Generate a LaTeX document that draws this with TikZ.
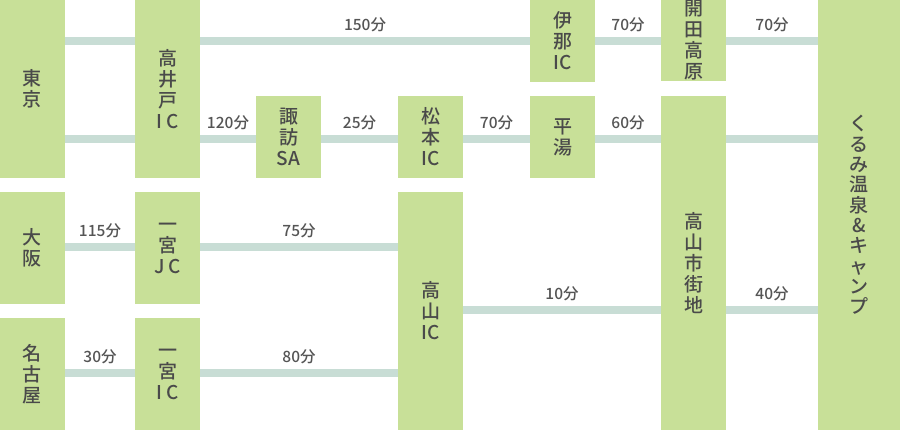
\documentclass[tikz,border=0pt]{standalone}
\usepackage{fontspec}
\setmainfont{Noto Sans CJK JP Medium}
\usetikzlibrary{positioning}
\definecolor{boxgreen}{RGB}{200, 224, 152}
\definecolor{roadgray}{RGB}{200, 221, 213}
\definecolor{textdark}{RGB}{74, 74, 74}
\definecolor{timegray}{RGB}{85, 85, 85}

\begin{document}
\begin{tikzpicture}[
    x=1pt, y=-1pt,
    stop/.style={rectangle, fill=boxgreen, inner sep=0pt, minimum width=65pt, align=center, text=textdark, font=\fontsize{19}{21}\selectfont},
    road/.style={line width=8pt, color=roadgray},
    time/.style={font=\fontsize{15.5}{16}\selectfont, text=timegray, yshift=16pt},
]
\useasboundingbox (0,0) rectangle (900,430);

% Road levels
\coordinate (row1) at (0,41);
\coordinate (row2) at (0,139);
\coordinate (row3) at (0,247);
\coordinate (row4) at (0,310);
\coordinate (row5) at (0,373);

% Starting points
\node[stop, minimum height=178pt] (tokyo) at (32.5, 89) {東\\京};
\node[stop, minimum height=112pt] (osaka) at (32.5, 248) {大\\阪};
\node[stop, minimum height=112pt] (nagoya) at (32.5, 374) {名\\古\\屋};

% Interchanges
\node[stop, minimum height=178pt] (takaido) at (167.5, 89) {高\\井\\戸\\I C};
\node[stop, minimum height=112pt] (ichijc) at (167.5, 248) {一\\宮\\J C};
\node[stop, minimum height=112pt] (ichiic) at (167.5, 374) {一\\宮\\I C};
\node[stop, minimum height=82pt] (suwa) at (288.5, 137) {諏\\訪\\SA};
\node[stop, minimum height=82pt] (matsumoto) at (430.5, 137) {松\\本\\IC};
\node[stop, minimum height=238pt] (takayamaic) at (430.5, 311) {高\\山\\IC};
\node[stop, minimum height=82pt] (ina) at (562.5, 41) {伊\\那\\IC};
\node[stop, minimum height=82pt] (hirayu) at (562.5, 137) {平\\湯};
\node[stop, minimum height=81pt] (kaida) at (693.5, 40.5) {開\\田\\高\\原};
\node[stop, minimum height=334pt] (takayamashi) at (693.5, 263) {高\\山\\市\\街\\地};

% Destination
\node[stop, minimum width=82pt, minimum height=430pt, font=\fontsize{19}{20.3}\selectfont] (kurumi) at (859, 215) {く\\る\\み\\温\\泉\\\&\\キ\\ャ\\ン\\プ};

% Roads from Tokyo
\draw[road] (tokyo.east |- row1) -- (takaido.west |- row1);
\draw[road] (tokyo.east |- row2) -- (takaido.west |- row2);
\draw[road] (takaido.east |- row1) -- (ina.west |- row1) node[midway, time] {150分};
\draw[road] (ina.east |- row1) -- (kaida.west |- row1) node[midway, time] {70分};
\draw[road] (kaida.east |- row1) -- (kurumi.west |- row1) node[midway, time] {70分};
\draw[road] (takaido.east |- row2) -- (suwa.west |- row2) node[midway, time] {120分};
\draw[road] (suwa.east |- row2) -- (matsumoto.west |- row2) node[midway, time] {25分};
\draw[road] (matsumoto.east |- row2) -- (hirayu.west |- row2) node[midway, time] {70分};
\draw[road] (hirayu.east |- row2) -- (takayamashi.west |- row2) node[midway, time] {60分};
\draw[road] (takayamashi.east |- row2) -- (kurumi.west |- row2);

% Roads from Osaka and Nagoya
\draw[road] (osaka.east |- row3) -- (ichijc.west |- row3) node[midway, time] {115分};
\draw[road] (ichijc.east |- row3) -- (takayamaic.west |- row3) node[midway, time] {75分};
\draw[road] (nagoya.east |- row5) -- (ichiic.west |- row5) node[midway, time] {30分};
\draw[road] (ichiic.east |- row5) -- (takayamaic.west |- row5) node[midway, time] {80分};
\draw[road] (takayamaic.east |- row4) -- (takayamashi.west |- row4) node[midway, time] {10分};
\draw[road] (takayamashi.east |- row4) -- (kurumi.west |- row4) node[midway, time] {40分};

\end{tikzpicture}
\end{document}
